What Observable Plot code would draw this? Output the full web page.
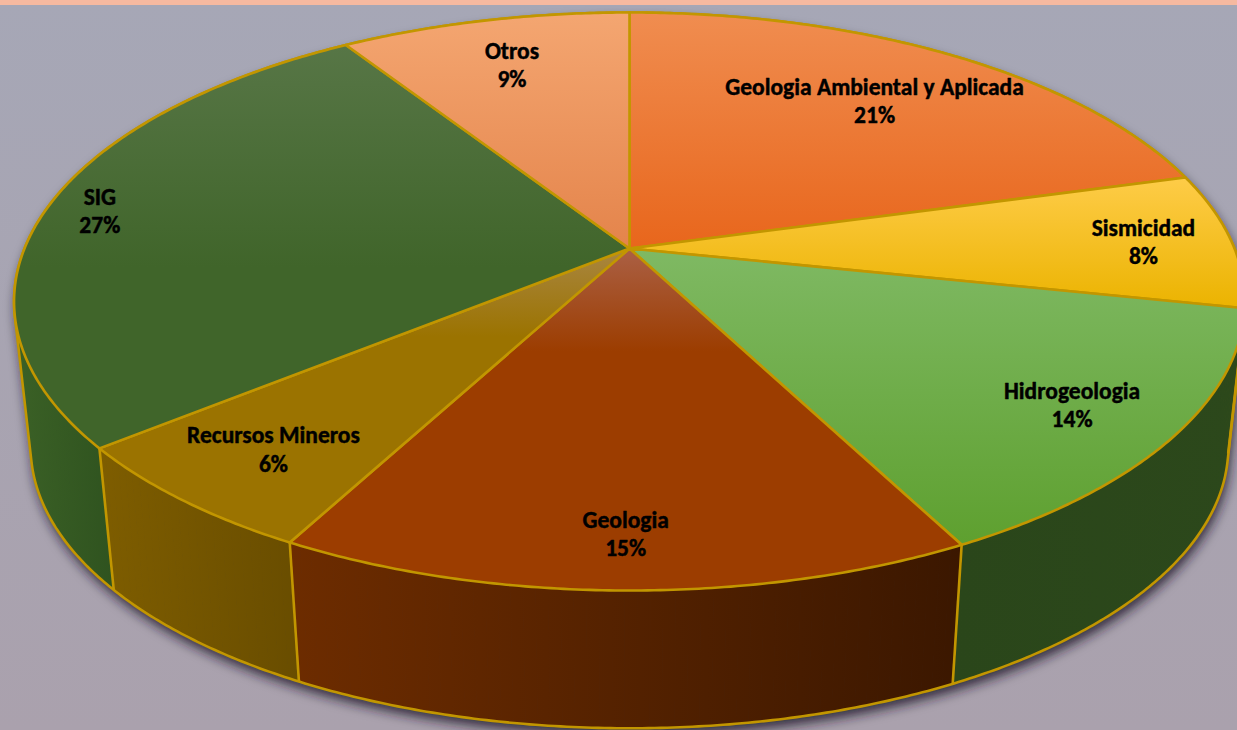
<!DOCTYPE html>
<html><head><meta charset="utf-8">
<script src="https://cdn.jsdelivr.net/npm/d3@7"></script>
<script src="https://cdn.jsdelivr.net/npm/@observablehq/plot@0.6"></script>
<style>
html,body{margin:0;padding:0;}
body{width:1237px;height:730px;overflow:hidden;background:linear-gradient(#a6a7b6,#aaa1ad);}
#band{height:5px;background:#f6b9a0;}
svg{display:block;}
</style></head><body>
<div id="band"></div>
<div id="chart"></div>
<script>
// ---- data ----
const categories = ["Geologia Ambiental y Aplicada","Sismicidad","Hidrogeologia","Geologia","Recursos Mineros","SIG","Otros"];
const shares = [20.7, 7.6, 14.1, 15.4, 6.3, 26.8, 9.1];

// ---- styles ----
const topLight = ["#f08d50","#fecc48","#7fb963","#ab6045","#a98641","#577646","#f4a671"];
const topBase  = ["#e8661c","#ebb300","#5ea02f","#9c3d00","#9b7300","#40652a","#e4844b"];
const topStop  = [1, 1, 1, 0.3, 0.3, 0.55, 1];
const sideLeft = ["#a34c16","#9a7400","#2a461a","#6d2c00","#7e5d00","#3b6126","#a66a40"];
const sideRight= ["#8a3e10","#886600","#2c481b","#3b1700","#694d00","#2f531f","#93603a"];
const GOLD = "#c29600";
const FONT = "Calibri, Carlito, Lato, sans-serif", FS = 23.5, LH = 1.21;

// ---- perspective geometry ----
const K = -0.1834, AX = 605, AY = 279.3, CX = 629, CY = 248, TOP = 5, W = 1237, H = 725;
const DEPTH = 147 / AY, SHRINK = 0.973;
const xDomain = [-CX / AX, (W - CX) / AX];
const yDomain = [(TOP - CY) / AY, (TOP + H - CY) / AY];
const xs = d3.scaleLinear(xDomain, [0, W]);
const ys = d3.scaleLinear(yDomain, [0, H]);

function proj(t, r, bottom) {
  const x = r * Math.sin(t), y = -r * Math.cos(t);
  const d = 1 + K * y;
  let u = x / d, v = y / d;
  if (bottom) { u *= SHRINK; v = DEPTH + SHRINK * v; }
  return [u, v];
}

const total = d3.sum(shares);
let acc = 0;
const slices = categories.map((name, i) => {
  const a0 = acc / total * 2 * Math.PI; acc += shares[i];
  const a1 = acc / total * 2 * Math.PI;
  return {i, name, pct: shares[i] / total * 100, a0, a1};
});

function arcPts(a0, a1, bottom) {
  const n = Math.max(2, Math.ceil((a1 - a0) / (Math.PI / 360)));
  return d3.range(n + 1).map(j => proj(a0 + (a1 - a0) * j / n, 1, bottom));
}
function maxFront(s) {
  let m = -Infinity;
  for (let j = 0; j <= 100; j++) m = Math.max(m, -Math.cos(s.a0 + (s.a1 - s.a0) * j / 100));
  return m;
}
function sideQuads(s) {
  const n = Math.max(1, Math.ceil((s.a1 - s.a0) / (Math.PI / 180)));
  const out = [];
  for (let j = 0; j < n; j++) {
    const t0 = s.a0 + (s.a1 - s.a0) * j / n, t1 = s.a0 + (s.a1 - s.a0) * (j + 1) / n;
    [proj(t0,1,false), proj(t1,1,false), proj(t1,1,true), proj(t0,1,true)]
      .forEach(([u, v]) => out.push({q: j, u, v}));
  }
  return out;
}
function topPoly(s) {
  return [[0, 0], ...arcPts(s.a0, s.a1, false)].map(([u, v]) => ({u, v}));
}

// silhouette of the cylinder
const hullSrc = [...arcPts(0, 2 * Math.PI, false), ...arcPts(0, 2 * Math.PI, true)];
const hull = d3.polygonHull(hullSrc).map(([u, v]) => ({u, v}));

// side gradient extents (front part)
const sideExt = slices.map(s => {
  const xsPx = [];
  for (let j = 0; j <= 200; j++) {
    const t = s.a0 + (s.a1 - s.a0) * j / 200;
    if (-Math.cos(t) >= -0.05) { xsPx.push(xs(proj(t,1,false)[0]), xs(proj(t,1,true)[0])); }
  }
  if (!xsPx.length) { xsPx.push(xs(proj(s.a0,1,false)[0]), xs(proj(s.a1,1,false)[0])); }
  return d3.extent(xsPx);
});

// slice boundaries (vertical edges)
const edges = slices.map(s => {
  const [u1, v1] = proj(s.a0, 1, false), [u2, v2] = proj(s.a0, 1, true);
  return {u1, v1, u2, v2};
});

// labels: placed inward from the rim along the slice's mid ray, by label box size and perspective
const ctx = document.createElement("canvas").getContext("2d");
ctx.font = `bold ${FS}px ${FONT}`;
const apexPx = [xs(0), ys(0)];
const labels = slices.map(s => {
  const tm = (s.a0 + s.a1) / 2;
  const [eu, ev] = proj(tm, 1, false);
  const E = [xs(eu), ys(ev)];
  const L = Math.hypot(apexPx[0] - E[0], apexPx[1] - E[1]);
  const dx = (apexPx[0] - E[0]) / L, dy = (apexPx[1] - E[1]) / L;
  const pctText = `${Math.round(s.pct)}%`;
  const w = Math.max(ctx.measureText(s.name).width, ctx.measureText(pctText).width);
  const raw = Math.min(28 + 1.15 * (w / 2) * Math.abs(dx) + 0.65 * (FS * LH) * Math.abs(dy), 100);
  const persp = 1 + K * (-Math.cos(tm));
  const d = Math.min(raw / persp, 105);
  return {u: xs.invert(E[0] + dx * d), v: ys.invert(E[1] + dy * d), text: `${s.name}\n${pctText}`};
});

const sideOrder = [...slices].sort((a, b) => maxFront(a) - maxFront(b));

const marks = [
  Plot.line(hull, {x: "u", y: "v", fill: "#1e1b2c", fillOpacity: 0.85, stroke: "none", curve: "linear-closed"}),
  ...sideOrder.map(s => Plot.line(sideQuads(s), {x: "u", y: "v", z: "q", fill: `url(#gs${s.i})`, stroke: `url(#gs${s.i})`, strokeWidth: 1, curve: "linear-closed"})),
  Plot.line(hull, {x: "u", y: "v", stroke: GOLD, strokeWidth: 2.6, strokeLinejoin: "round", curve: "linear-closed"}),
  Plot.link(edges, {x1: "u1", y1: "v1", x2: "u2", y2: "v2", stroke: GOLD, strokeWidth: 2.6}),
  ...slices.map(s => Plot.line(topPoly(s), {x: "u", y: "v", fill: `url(#gt${s.i})`, stroke: GOLD, strokeWidth: 2.6, strokeLinejoin: "round", curve: "linear-closed"})),
  Plot.text(labels, {x: "u", y: "v", text: "text", fontSize: FS, fontWeight: "bold", fontFamily: FONT, lineHeight: LH, fill: "#000", stroke: "#000", strokeWidth: 0.45})
];

const svg = Plot.plot({
  width: W, height: H, margin: 0,
  x: {domain: xDomain, range: [0, W], axis: null},
  y: {domain: yDomain, range: [0, H], axis: null},
  style: {background: "transparent", overflow: "hidden"},
  marks
});

// gradients and shadow filter
const root = d3.select(svg);
const defs = root.insert("defs", ":first-child");
slices.forEach(s => {
  const gt = defs.append("linearGradient").attr("id", `gt${s.i}`).attr("x1", 0).attr("y1", 0).attr("x2", 0).attr("y2", 1);
  gt.append("stop").attr("offset", "0%").attr("stop-color", topLight[s.i]);
  gt.append("stop").attr("offset", `${topStop[s.i] * 100}%`).attr("stop-color", topBase[s.i]);
  gt.append("stop").attr("offset", "100%").attr("stop-color", topBase[s.i]);
  const [e0, e1] = sideExt[s.i];
  const gs = defs.append("linearGradient").attr("id", `gs${s.i}`).attr("gradientUnits", "userSpaceOnUse")
    .attr("x1", e0).attr("y1", 0).attr("x2", e1 > e0 ? e1 : e0 + 1).attr("y2", 0);
  gs.append("stop").attr("offset", "0%").attr("stop-color", sideLeft[s.i]);
  gs.append("stop").attr("offset", "100%").attr("stop-color", sideRight[s.i]);
});
const f = defs.append("filter").attr("id", "shadowBlur").attr("x", "-10%").attr("y", "-10%").attr("width", "120%").attr("height", "130%");
f.append("feGaussianBlur").attr("stdDeviation", 6);
const shadowG = root.select('g[aria-label="line"]');
shadowG.attr("filter", "url(#shadowBlur)").selectAll("path").attr("transform", "translate(2,7)");

document.getElementById("chart").appendChild(svg);
</script>
</body></html>
